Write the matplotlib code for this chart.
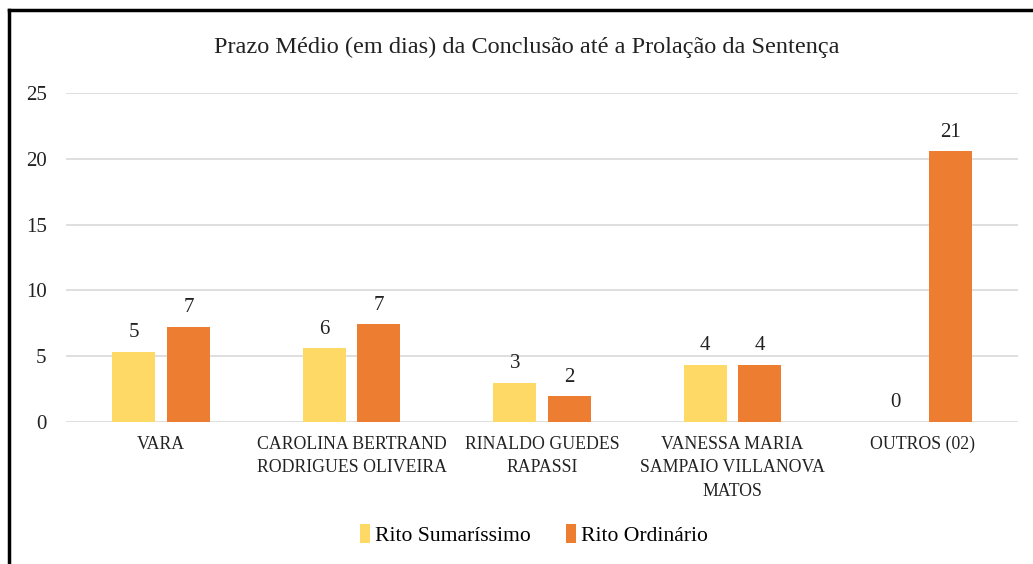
import matplotlib
matplotlib.use("Agg")
import matplotlib.pyplot as plt
import numpy as np

plt.rcParams['font.family'] = ['Liberation Serif', 'DejaVu Serif']

categories = ["VARA", "CAROLINA BERTRAND\nRODRIGUES OLIVEIRA", "RINALDO GUEDES\nRAPASSI",
              "VANESSA MARIA\nSAMPAIO VILLANOVA\nMATOS", "OUTROS (02)"]
sumarissimo = [5.33, 5.59, 2.97, 4.32, 0.0]
ordinario = [7.24, 7.42, 1.93, 4.32, 20.6]
series_names = ["Rito Sumaríssimo", "Rito Ordinário"]
colors = ["#FFD966", "#ED7D31"]
title = "Prazo Médio (em dias) da Conclusão até a Prolação da Sentença"

fig = plt.figure(figsize=(10.33, 5.64), dpi=100)
ax = fig.add_axes([66/1033, 142.3/564, (1018-66)/1033, (421.7-93.5)/564])

x = np.arange(len(categories))
w = 0.226
off = 0.143
b1 = ax.bar(x - off, sumarissimo, w, color=colors[0], label=series_names[0], zorder=3)
b2 = ax.bar(x + off, ordinario, w, color=colors[1], label=series_names[1], zorder=3)

for bars, vals in ((b1, sumarissimo), (b2, ordinario)):
    for r, v in zip(bars, vals):
        ax.annotate(f"{v:.0f}", (r.get_x() + r.get_width()/2, v), xytext=(0, 7),
                    textcoords="offset points", ha="center", va="bottom", fontsize=15, color="#222222")

ax.set_xlim(-0.5, len(categories) - 0.5)
ax.set_ylim(0, 25)
ax.set_yticks([0, 5, 10, 15, 20, 25])
ax.set_xticks(x)
ax.set_xticklabels(categories, fontsize=12.8, linespacing=1.5, color="#222222")
ax.tick_params(axis='y', labelsize=15, length=0, pad=14, colors="#222222")
ax.tick_params(axis='x', length=0, pad=10)
ax.grid(axis='y', color="#D9D9D9", linewidth=1.2, zorder=0)
for s in ax.spines.values():
    s.set_visible(False)

fig.text(0.510, 1 - 47/564, title, ha="center", va="center", fontsize=17.5, color="#222222")

leg = fig.legend(handles=[b1, b2], labels=series_names, loc="center", bbox_to_anchor=(534/1033, 1 - 535/564),
                 ncol=2, frameon=False, fontsize=15.6, handlelength=0.45, handleheight=1.0,
                 handletextpad=0.25, columnspacing=1.6)

# chart border (top and left visible)
fig.add_artist(plt.Line2D([9/1033, 1], [1 - 10/564, 1 - 10/564], transform=fig.transFigure, color="black", lw=2.5))
fig.add_artist(plt.Line2D([9/1033, 9/1033], [0, 1 - 10/564], transform=fig.transFigure, color="black", lw=2.5))

fig.savefig("out.png", dpi=100)
